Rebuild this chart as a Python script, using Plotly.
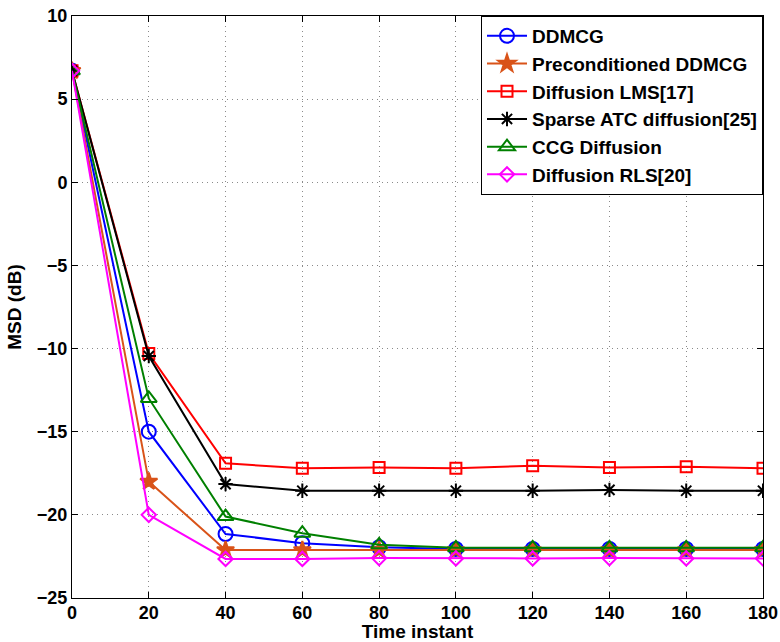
import plotly.graph_objects as go

time_instant = [0, 20, 40, 60, 80, 100, 120, 140, 160, 180]

ddmcg = [6.7, -15.0, -21.15, -21.7, -21.95, -22.05, -22.05, -22.05, -22.05, -22.05]
precond_ddmcg = [6.7, -18.0, -22.12, -22.12, -22.12, -22.12, -22.12, -22.12, -22.12, -22.12]
diffusion_lms = [6.7, -10.3, -16.9, -17.2, -17.15, -17.2, -17.05, -17.15, -17.1, -17.2]
sparse_atc = [6.7, -10.45, -18.15, -18.55, -18.55, -18.55, -18.55, -18.5, -18.55, -18.55]
ccg_diffusion = [6.7, -13.0, -20.1, -21.1, -21.8, -21.98, -21.98, -21.98, -21.98, -21.98]
diffusion_rls = [6.7, -20.0, -22.65, -22.65, -22.6, -22.62, -22.62, -22.6, -22.62, -22.62]

series_names = ["DDMCG", "Preconditioned DDMCG", "Diffusion LMS[17]",
                "Sparse ATC diffusion[25]", "CCG Diffusion", "Diffusion RLS[20]"]
series_values = [ddmcg, precond_ddmcg, diffusion_lms, sparse_atc, ccg_diffusion, diffusion_rls]
x_tick_vals = [0, 20, 40, 60, 80, 100, 120, 140, 160, 180]
y_tick_vals = [-25, -20, -15, -10, -5, 0, 5, 10]
y_tick_text = ["\u221225", "\u221220", "\u221215", "\u221210", "\u22125", "0", "5", "10"]

colors = ["#0000FF", "#D95319", "#FF0000", "#000000", "#008000", "#FF00FF"]
symbols = ["circle-open", "star", "square-open", "asterisk-open", "triangle-up-open", "diamond-open"]
sizes = [14, 13, 11, 12, 14, 11]

fig = go.Figure()
for name, vals, c, s, sz in zip(series_names, series_values, colors, symbols, sizes):
    fig.add_trace(go.Scatter(
        x=time_instant, y=vals, name=name, mode="lines+markers",
        line=dict(color=c, width=2),
        marker=dict(symbol=s, size=sz, color=c, line=dict(color=c, width=2)),
    ))

font_family = "Liberation Sans, Arial, sans-serif"
fig.update_layout(
    width=780, height=642,
    margin=dict(l=72, r=17, t=16, b=44),
    paper_bgcolor="white", plot_bgcolor="white",
    font=dict(family=font_family, size=18, color="black"),
    showlegend=True,
    legend=dict(
        x=1, y=1, xanchor="right", yanchor="top",
        bgcolor="white", bordercolor="black", borderwidth=1,
        font=dict(family=font_family, size=19, color="black", weight="bold"),
        tracegroupgap=0, itemwidth=40,
    ),
    xaxis=dict(
        range=[0, 180], tickmode="array", tickvals=x_tick_vals,
        showline=True, linecolor="black", linewidth=1, mirror="ticks",
        ticks="inside", ticklen=6, tickcolor="black",
        showgrid=True, gridcolor="#8a8a8a", griddash="1px,4px", gridwidth=1,
        zeroline=False, automargin=False, ticklabelstandoff=-2,
        tickfont=dict(family=font_family, size=18, weight="bold"),
        title=dict(text="Time instant", standoff=2,
                   font=dict(family=font_family, size=19, weight="bold")),
    ),
    yaxis=dict(
        range=[-25, 10], tickmode="array", tickvals=y_tick_vals,
        ticktext=y_tick_text,
        showline=True, linecolor="black", linewidth=1, mirror="ticks",
        ticks="inside", ticklen=6, tickcolor="black",
        showgrid=True, gridcolor="#8a8a8a", griddash="1px,4px", gridwidth=1,
        zeroline=False, automargin=False,
        tickfont=dict(family=font_family, size=18, weight="bold"),
        title=dict(text="MSD (dB)", standoff=10,
                   font=dict(family=font_family, size=19, weight="bold")),
    ),
)

fig.write_html("out.html", config={"displayModeBar": False},
               post_script="document.body.style.margin='0px';")
